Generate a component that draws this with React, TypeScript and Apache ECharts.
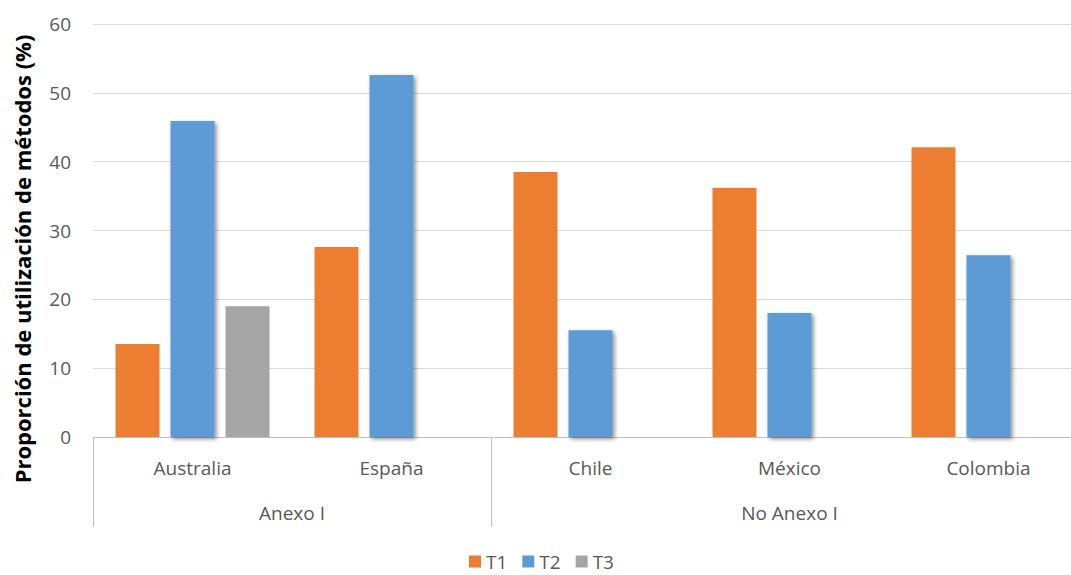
import React, { useEffect, useRef } from "react";
import * as echarts from "echarts";

// Countries (first axis level) and the annex group each belongs to (second level)
const categories = ["Australia", "España", "Chile", "México", "Colombia"];
const groupNames = ["Anexo I", "No Anexo I"];
const groupSizes = [2, 3];

const seriesNames = ["T1", "T2", "T3"];
const t1 = [13.5, 27.6, 38.5, 36.2, 42.1];
const t2 = [45.9, 52.6, 15.5, 18.0, 26.4];
const t3 = [19.0, 0, 0, 0, 0];

const yTicks = [0, 10, 20, 30, 40, 50, 60];
const yTitle = "Proporción de utilización de métodos (%)";

const COLORS = ["#ED7D31", "#5B9BD5", "#A5A5A5"];
const TEXT = "#595959";
const FONT = "'Open Sans', 'Noto Sans', sans-serif";

export default function App() {
  const ref = useRef<HTMLDivElement>(null);

  useEffect(() => {
    if (!ref.current) return;
    const chart = echarts.init(ref.current, null, { renderer: "svg" });

    // group boundaries and centres on a 0..N scale
    const bounds: number[] = [0];
    const centres: number[] = [];
    groupSizes.forEach((n) => {
      const start = bounds[bounds.length - 1];
      centres.push(start + n / 2);
      bounds.push(start + n);
    });

    chart.setOption({
      animation: false,
      textStyle: { fontFamily: FONT },
      grid: { left: 93, right: 0, top: 24, bottom: 138, containLabel: false },
      graphic: [
        {
          type: "text",
          x: 22,
          y: 259,
          rotation: Math.PI / 2,
          style: {
            text: yTitle,
            fill: "#000",
            font: `bold 22px ${FONT}`,
            align: "center",
            verticalAlign: "middle",
          },
        },
      ],
      legend: {
        top: 552,
        left: 469,
        padding: 0,
        icon: "rect",
        itemWidth: 12,
        itemHeight: 12,
        itemGap: 15,
        textStyle: { color: TEXT, fontSize: 19, lineHeight: 19, fontFamily: FONT },
        data: seriesNames,
      },
      xAxis: [
        {
          type: "category",
          data: categories,
          axisLine: { show: true, lineStyle: { color: "#BFBFBF", width: 1 } },
          axisTick: { show: false },
          axisLabel: { color: TEXT, fontSize: 19, margin: 21, fontFamily: FONT },
          splitLine: { show: false },
        },
        {
          type: "value",
          min: 0,
          max: categories.length,
          position: "bottom",
          axisLine: { show: false },
          splitLine: { show: false },
          axisTick: {
            show: true,
            customValues: bounds,
            length: 90,
            lineStyle: { color: "#BFBFBF", width: 1 },
          },
          axisLabel: {
            customValues: centres,
            color: TEXT,
            fontSize: 19,
            margin: 66,
            fontFamily: FONT,
            formatter: (v: number) => {
              const i = centres.findIndex((c) => Math.abs(c - v) < 1e-6);
              return i >= 0 ? groupNames[i] : "";
            },
          },
        },
      ],
      yAxis: {
        type: "value",
        min: yTicks[0],
        max: yTicks[yTicks.length - 1],
        interval: 10,
        axisLine: { show: false },
        axisTick: { show: false },
        axisLabel: { color: TEXT, fontSize: 19, margin: 22, fontFamily: FONT },
        splitLine: { lineStyle: { color: "#D9D9D9", width: 1 } },
      },
      series: [
        {
          name: seriesNames[0],
          type: "bar",
          data: t1,
          barWidth: 44,
          barGap: "25%",
          itemStyle: { color: COLORS[0] },
        },
        {
          name: seriesNames[1],
          type: "bar",
          data: t2,
          barWidth: 44,
          barGap: "25%",
          itemStyle: {
            color: COLORS[1],
            shadowColor: "rgba(0,0,0,0.45)",
            shadowBlur: 4,
            shadowOffsetX: 2,
            shadowOffsetY: 2,
          },
        },
        {
          name: seriesNames[2],
          type: "bar",
          data: t3,
          barWidth: 44,
          barGap: "25%",
          itemStyle: { color: COLORS[2] },
        },
      ],
    });

    return () => chart.dispose();
  }, []);

  // the plot runs a little past the right edge of the visible frame
  return (
    <div style={{ position: "fixed", left: 0, top: 0, width: 1071, height: 575, overflow: "hidden", background: "#fff" }}>
      <div ref={ref} style={{ width: 1088, height: 575 }} />
    </div>
  );
}
